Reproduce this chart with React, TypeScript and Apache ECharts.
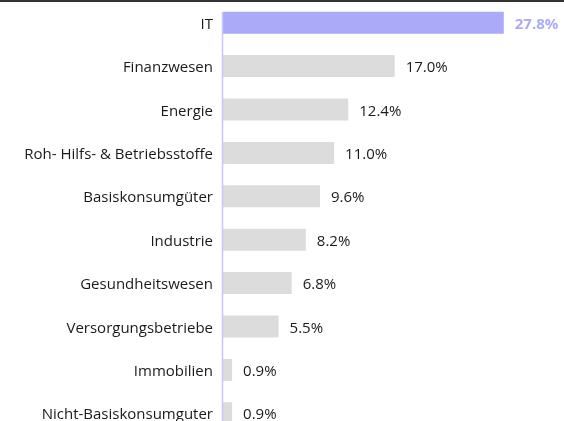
import React, { useEffect, useRef } from "react";
import * as echarts from "echarts";

const categories = [
  "IT",
  "Finanzwesen",
  "Energie",
  "Roh- Hilfs- & Betriebsstoffe",
  "Basiskonsumgüter",
  "Industrie",
  "Gesundheitswesen",
  "Versorgungsbetriebe",
  "Immobilien",
  "Nicht-Basiskonsumguter",
];
const values = [27.8, 17.0, 12.4, 11.0, 9.6, 8.2, 6.8, 5.5, 0.9, 0.9];
const highlightIndex = 0;

export default function App() {
  const ref = useRef<HTMLDivElement>(null);
  useEffect(() => {
    if (!ref.current) return;
    document.body.style.overflow = "hidden";
    const chart = echarts.init(ref.current, null, { renderer: "svg" });
    const font = "'Open Sans', 'Noto Sans', sans-serif";
    chart.setOption({
      animation: false,
      grid: { left: 223, width: 303, top: 1, bottom: 5, containLabel: false },
      xAxis: {
        type: "value",
        min: 0,
        max: 30,
        show: false,
      },
      yAxis: {
        type: "category",
        inverse: true,
        data: categories,
        axisLine: { show: false },
        axisTick: { show: false },
        axisLabel: {
          color: "#1a1a1a",
          fontSize: 15,
          fontFamily: font,
          margin: 10,
        },
      },
      series: [
        {
          type: "bar",
          barWidth: 22,
          data: values.map((v, i) => ({
            value: v,
            itemStyle: { color: i === highlightIndex ? "#aaaaf8" : "#dcdcdc" },
            label: {
              color: i === highlightIndex ? "#aaaaf8" : "#1a1a1a",
              fontWeight: i === highlightIndex ? "bold" : "normal",
            },
          })),
          label: {
            show: true,
            position: "right",
            distance: 11,
            fontSize: 15,
            fontFamily: font,
            formatter: (p: any) => p.value.toFixed(1) + "%",
          },
        },
      ],
      graphic: [
        {
          type: "line",
          shape: { x1: 0, y1: 1, x2: 564, y2: 1 },
          style: { stroke: "#333", lineWidth: 2 },
        },
        {
          type: "line",
          shape: { x1: 222.5, y1: 12, x2: 222.5, y2: 440 },
          style: { stroke: "#c8c8f8", lineWidth: 1.5 },
          z: 10,
        },
      ],
    });
    return () => chart.dispose();
  }, []);
  return (
    <div
      style={{ position: "fixed", left: 0, top: 0, width: 564, height: 421, overflow: "hidden" }}
    >
      <div ref={ref} style={{ width: 564, height: 440 }} />
    </div>
  );
}
